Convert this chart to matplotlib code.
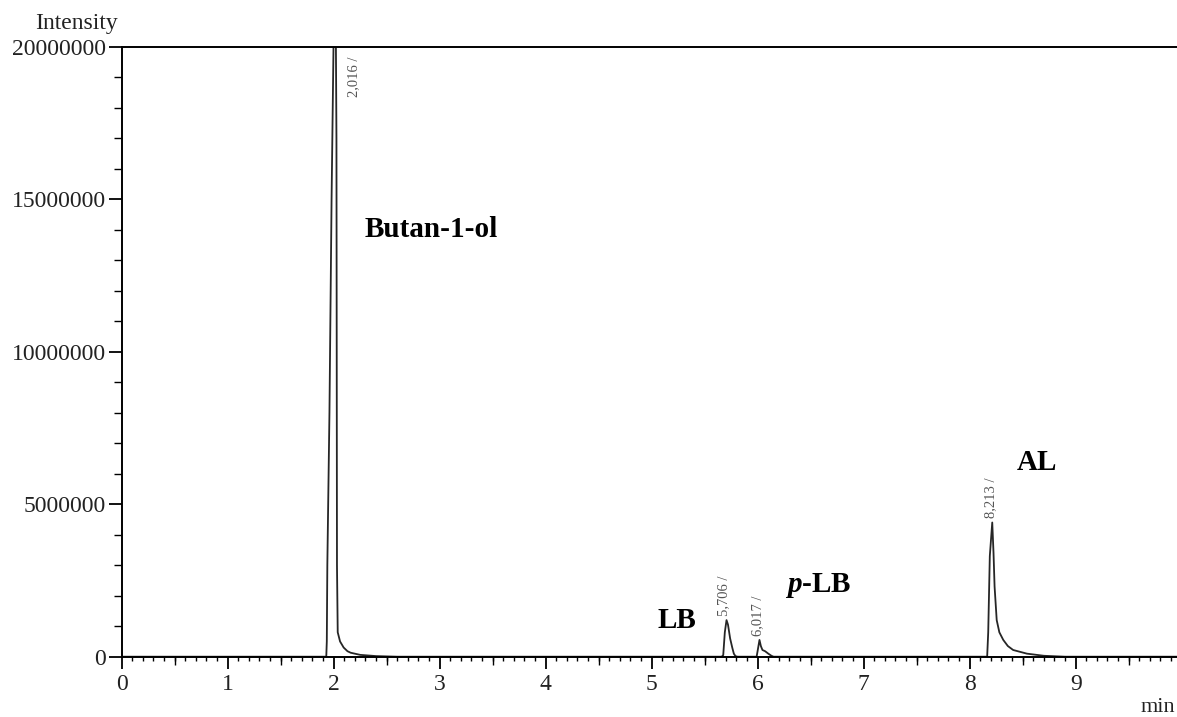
import numpy as np
import matplotlib
matplotlib.use("Agg")
import matplotlib.pyplot as plt
from matplotlib.ticker import MultipleLocator, FuncFormatter

OUTPUT_IMAGE = "out.png"

# Chromatogram trace (time in min, intensity in counts)
baseline_t = [0.0, 1.93]
baseline_i = [0, 0]

butanol_t = [1.935, 1.94, 1.96, 1.98, 2.0, 2.016, 2.026, 2.031, 2.038, 2.06, 2.094, 2.13, 2.16, 2.25, 2.4, 2.6]
butanol_i = [500000, 3000000, 8000000, 15000000, 20500000, 23000000, 17000000, 3000000, 800000,
             500000, 300000, 180000, 130000, 60000, 20000, 0]

lb_t = [5.66, 5.675, 5.69, 5.706, 5.72, 5.74, 5.76, 5.775, 5.79, 5.81]
lb_i = [0, 50000, 800000, 1200000, 1050000, 600000, 300000, 100000, 20000, 0]

plb_t = [5.99, 6.0, 6.017, 6.03, 6.045, 6.07, 6.1, 6.13, 6.15]
plb_i = [0, 200000, 550000, 350000, 220000, 180000, 100000, 30000, 0]

al_t = [8.165, 8.175, 8.19, 8.213, 8.225, 8.235, 8.255, 8.28, 8.317, 8.36, 8.41, 8.54, 8.7, 8.9, 9.96]
al_i = [0, 800000, 3300000, 4400000, 3400000, 2300000, 1200000, 800000, 550000, 350000, 220000,
        100000, 30000, 0, 0]

# Peak retention times and compound names
rt_labels = ["2,016 /", "5,706 /", "6,017 /", "8,213 /"]
compounds = ["Butan-1-ol", "LB", "$\\mathbfit{p}$-LB", "AL"]

Y_MAX = 20000000
X_MAX = 9.956

plt.rcParams["font.family"] = ["Liberation Serif", "DejaVu Serif"]
plt.rcParams["mathtext.fontset"] = "custom"
plt.rcParams["mathtext.bfit"] = "Liberation Serif:italic:bold"
plt.rcParams["mathtext.rm"] = "Liberation Serif"

time = np.concatenate([baseline_t, butanol_t, lb_t, plb_t, al_t])
intensity = np.concatenate([baseline_i, butanol_i, lb_i, plb_i, al_i])

fig = plt.figure(figsize=(11.77, 7.17), dpi=100)
ax = fig.add_axes([121.7 / 1177, 60.3 / 717, 1055.3 / 1177, 610 / 717])

ax.plot(time, intensity, color="#262626", linewidth=1.3, clip_on=True)

ax.set_xlim(0, X_MAX)
ax.set_ylim(0, Y_MAX)

# spines: left, bottom and top frame, no right
for side in ["left", "bottom", "top"]:
    ax.spines[side].set_color("black")
    ax.spines[side].set_linewidth(1.4)
ax.spines["right"].set_visible(False)

# ticks
ax.xaxis.set_major_locator(MultipleLocator(1))
ax.xaxis.set_minor_locator(MultipleLocator(0.1))
ax.yaxis.set_major_locator(MultipleLocator(5000000))
ax.yaxis.set_minor_locator(MultipleLocator(1000000))
ax.yaxis.set_major_formatter(FuncFormatter(lambda v, p: f"{v:.0f}"))

ax.tick_params(axis="x", which="major", direction="out", length=8.5, width=1.3,
               labelsize=17, pad=4, colors="black", labelcolor="#222222")
ax.tick_params(axis="x", which="minor", direction="out", length=3, width=1.0, colors="black")
ax.tick_params(axis="y", which="major", direction="out", length=9.5, width=1.3,
               labelsize=17, pad=2, colors="black", labelcolor="#222222")
ax.tick_params(axis="y", which="minor", direction="out", length=5.5, width=1.0, colors="black")
ax.tick_params(top=False, right=False, which="both")

# medium ticks at the half minutes
half = ax.secondary_xaxis("bottom")
half.set_xticks(np.arange(0.5, 10, 1.0))
half.tick_params(length=5.5, width=1.0, labelbottom=False, direction="out")
half.spines["bottom"].set_visible(False)

# retention time labels
rt_style = dict(rotation=90, ha="center", fontsize=10.5, color="#555555")
ax.text(2.19, 19000000, rt_labels[0], va="center", **rt_style)
ax.annotate(rt_labels[1], xy=(lb_t[3], lb_i[3]), xytext=(-2, 3), textcoords="offset points",
            va="bottom", **rt_style)
ax.annotate(rt_labels[2], xy=(plb_t[2], plb_i[2]), xytext=(-1, 3), textcoords="offset points",
            va="bottom", **rt_style)
ax.annotate(rt_labels[3], xy=(al_t[3], al_i[3]), xytext=(-1, 3), textcoords="offset points",
            va="bottom", **rt_style)

# compound names
name_style = dict(fontsize=21, fontweight="bold", color="black", va="center")
ax.text(2.29, 14000000, compounds[0], ha="left", **name_style)
ax.text(5.24, 1200000, compounds[1], ha="center", **name_style)
ax.text(6.57, 2350000, compounds[2], ha="center", **name_style)
ax.text(8.63, 6380000, compounds[3], ha="center", **name_style)

# axis titles in the corners
fig.text(76 / 1177, 1 - 24 / 717, "Intensity", ha="center", va="center", fontsize=17, color="#222222")
fig.text(1175 / 1177, 1 - 708 / 717, "min", ha="right", va="center", fontsize=16, color="#222222")

fig.savefig(OUTPUT_IMAGE, dpi=100)
